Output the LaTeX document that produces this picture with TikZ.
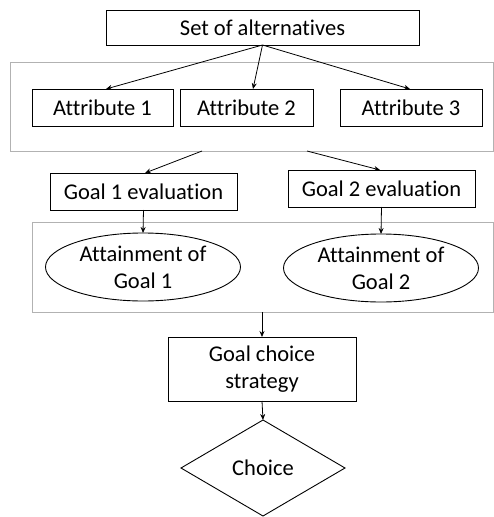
\documentclass[tikz,border=0pt]{standalone}
\usepackage{fontspec}
\setmainfont{Carlito}[Ligatures=NoCommon]
\usetikzlibrary{shapes.geometric,arrows.meta}

\tikzset{
  box/.style={draw,line width=0.9pt,inner sep=0pt,outer sep=0pt,minimum height=37pt,align=center},
  group/.style={draw=black!30,line width=1pt,inner sep=0pt,outer sep=0pt},
  goal/.style={draw,ellipse,line width=0.9pt,inner sep=0pt,outer sep=0pt,minimum width=195pt,minimum height=68pt,align=center},
  pick/.style={draw,diamond,line width=0.9pt,inner sep=0pt,outer sep=0pt,minimum width=164pt,minimum height=96pt},
  flow/.style={-{Stealth[length=6pt,width=5pt]},line width=0.8pt}
}

\begin{document}
\begin{tikzpicture}[x=1pt,y=-1pt,font=\fontsize{22.5}{27}\selectfont]
  \useasboundingbox (0,0) rectangle (494,517);

  % grey frames
  \node[group,minimum width=483pt,minimum height=89pt] (attrs) at (251.5,106.5) {};
  \node[group,minimum width=461pt,minimum height=90pt] (goals) at (262.5,267) {};

  \node[box,minimum width=313pt,minimum height=35pt] (alts) at (262.5,27.5) {Set of alternatives};
  \node[box,minimum width=141pt] (attr1) at (102.5,107.5) {Attribute 1};
  \node[box,minimum width=133pt] (attr2) at (246.5,107.5) {Attribute 2};
  \node[box,minimum width=142pt] (attr3) at (411,107.5) {Attribute 3};

  \node[box,minimum width=187pt] (eval1) at (143.5,191.5) {Goal 1 evaluation};
  \node[box,minimum width=187pt] (eval2) at (381.5,188.5) {Goal 2 evaluation};

  \node[goal] (att1) at (143,267) {Attainment of\\Goal 1};
  \node[goal] (att2) at (381,268) {Attainment of\\Goal 2};

  \node[box,minimum width=188pt,minimum height=64pt] (strat) at (262,369) {Goal choice\\strategy};
  \node[pick] (choice) at (263,468) {Choice};

  \coordinate (out1) at (202,151);
  \coordinate (out2) at (307,151);

  \draw[flow] (alts.south) -- ([xshift=3.5pt]attr1.north);
  \draw[flow] (alts.south) -- ([xshift=6.5pt]attr2.north);
  \draw[flow] (alts.south) -- ([xshift=-1pt]attr3.north);

  \draw[flow] (out1) -- ([xshift=1.5pt]eval1.north);
  \draw[flow] (out2) -- ([xshift=-1.5pt]eval2.north);

  \draw[flow] (eval1.south) -- (att1.north);
  \draw[flow] (eval2.south) -- (att2.north);

  \draw[flow] (goals.south -| strat.north) -- (strat.north);
  \draw[flow] (strat.south) -- (choice.north);
\end{tikzpicture}
\end{document}
